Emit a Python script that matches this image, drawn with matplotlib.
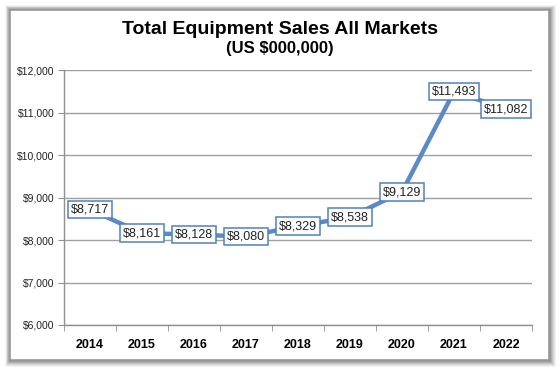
import matplotlib
matplotlib.use("Agg")
import matplotlib.pyplot as plt
from matplotlib.patches import Rectangle
from matplotlib.ticker import FuncFormatter, FixedLocator

years = ["2014", "2015", "2016", "2017", "2018", "2019", "2020", "2021", "2022"]
sales = [8717, 8161, 8128, 8080, 8329, 8538, 9129, 11493, 11082]
y_ticks = [6000, 7000, 8000, 9000, 10000, 11000, 12000]

plt.rcParams['font.family'] = ['Liberation Sans', 'DejaVu Sans']

W, H = 560, 372
fig = plt.figure(figsize=(W/100, H/100), dpi=100)
fig.patch.set_facecolor('white')

# frame with shadow
def frect(x0, y0, x1, y1, **kw):
    return Rectangle((x0/W, 1 - y1/H), (x1-x0)/W, (y1-y0)/H, transform=fig.transFigure, **kw)

for i, a in enumerate([0.06, 0.08, 0.10, 0.13, 0.16, 0.20, 0.25]):
    d = 7 - i
    fig.patches.append(frect(10 - d*0.7, 10 - d*0.7, 549 + d, 360 + d, facecolor=(0.3, 0.3, 0.3, a), edgecolor='none', zorder=0))
fig.patches.append(frect(10, 10, 549, 360, facecolor='white', edgecolor='#9a9a9a', linewidth=1.2, zorder=1))

fig.text(280/W, 1 - 30/H, "Total Equipment Sales All Markets", ha='center', va='center',
         fontsize=14, fontweight='bold', color='black')
fig.text(280/W, 1 - 48/H, "(US $000,000)", ha='center', va='center',
         fontsize=12, fontweight='bold', color='black')

ax = fig.add_axes([64/W, 1 - 325/H, (532-64)/W, (325-70)/H])
ax.set_facecolor('none')
ax.set_zorder(2)
x = list(range(len(years)))
ax.plot(x, sales, color='#5A8AC8', linewidth=3.2, solid_capstyle='round', zorder=3)
for xi, v in zip(x, sales):
    ax.text(xi, v, "${:,}".format(v), ha='center', va='center', fontsize=9, color='#222222', zorder=4,
            bbox=dict(boxstyle='square,pad=0.22', facecolor='white', edgecolor='#4F81BD', linewidth=1.1))

ax.set_xlim(-0.5, len(years) - 0.5)
ax.set_ylim(6000, 12000)
ax.yaxis.set_major_locator(FixedLocator(y_ticks))
ax.yaxis.set_major_formatter(FuncFormatter(lambda v, p: "${:,.0f}".format(v)))
ax.grid(axis='y', color='#a0a0a0', linewidth=1.0, zorder=0)
ax.set_axisbelow(True)

ax.set_xticks(x)
ax.set_xticklabels(years, fontsize=9, fontweight='bold')
ax.set_xticks([i - 0.5 for i in range(len(years) + 1)], minor=True)
ax.tick_params(axis='x', which='major', length=0, pad=10)
ax.tick_params(axis='x', which='minor', length=4, color='#909090', direction='out')
ax.tick_params(axis='y', which='major', length=4, color='#909090', labelsize=7.5, labelcolor='#222222', pad=3)

for s in ['top', 'right']:
    ax.spines[s].set_visible(False)
for s in ['left', 'bottom']:
    ax.spines[s].set_color('#909090')
    ax.spines[s].set_linewidth(1.0)

fig.savefig("out.png", dpi=100, facecolor='white')
